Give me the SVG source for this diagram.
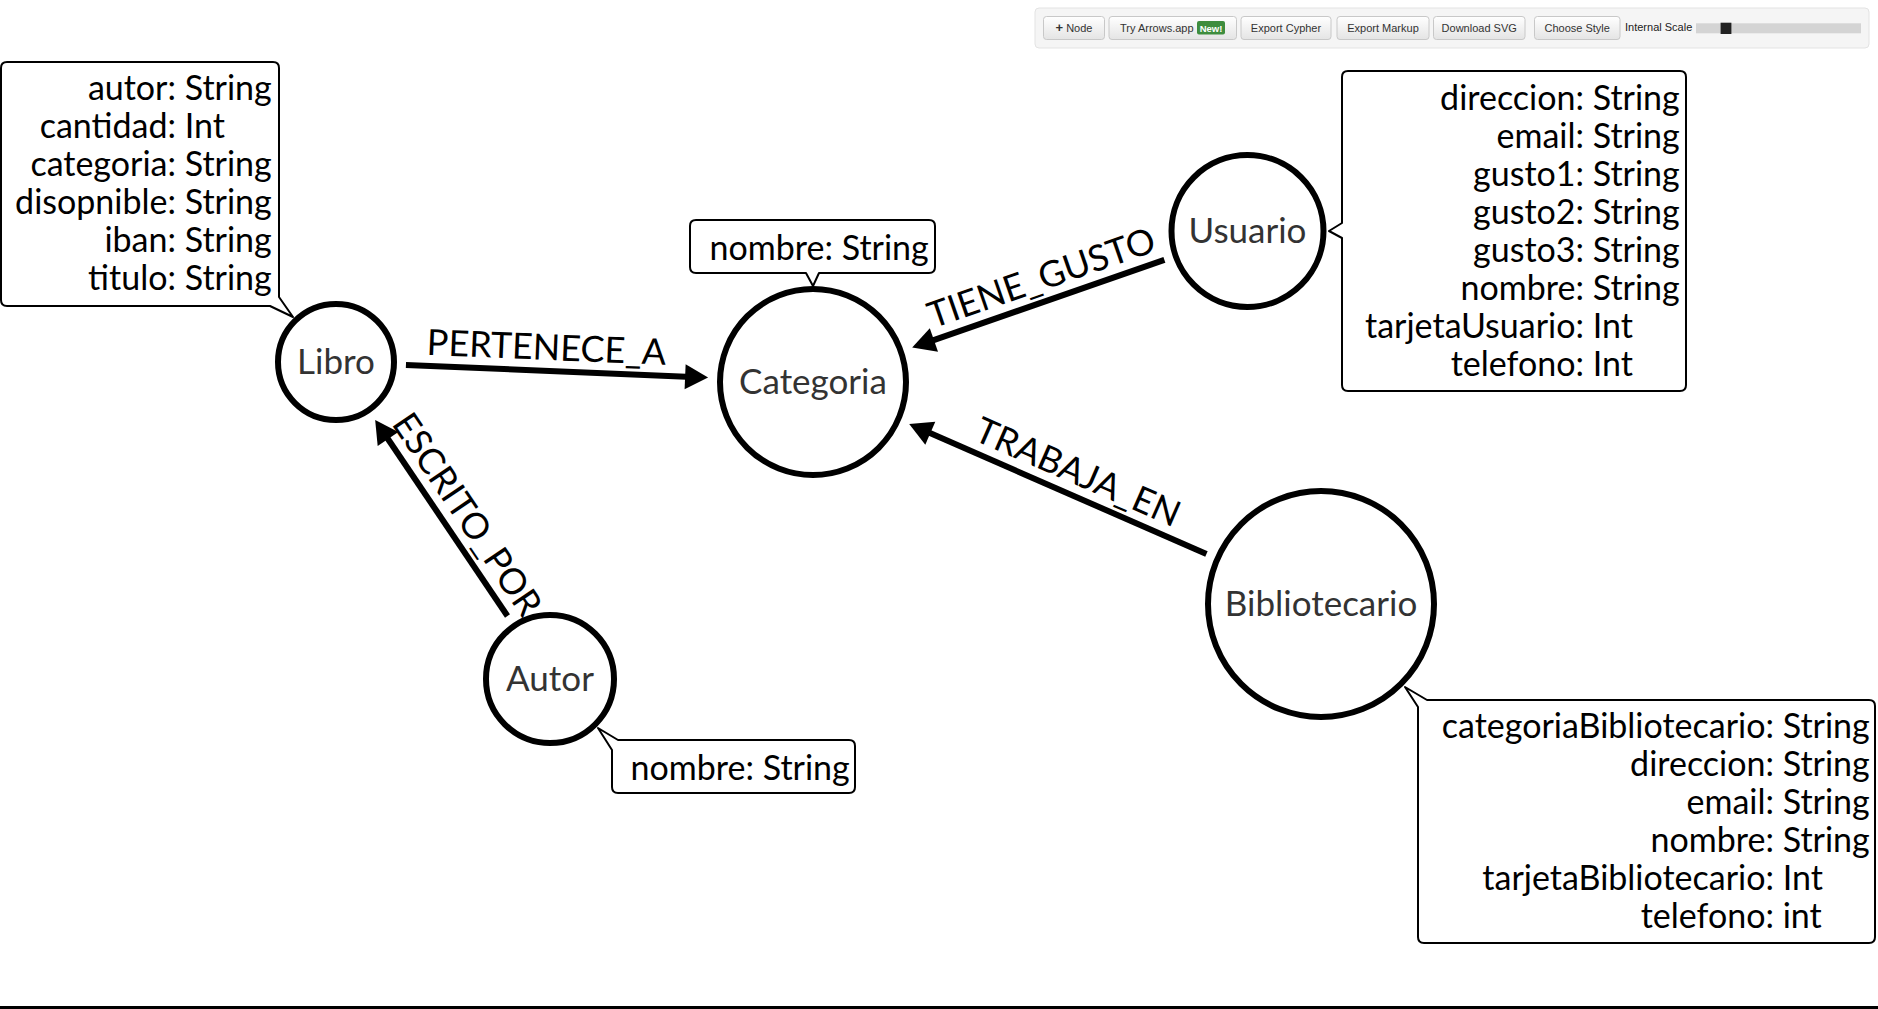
<svg xmlns="http://www.w3.org/2000/svg" width="1878" height="1009" viewBox="0 0 1878 1009">
<style>
.node{fill:#fff;stroke:#000;stroke-width:6}
.cap{font-family:Lato,"Open Sans",sans-serif;font-size:35px;fill:#333;text-anchor:middle}
.box{fill:#fff;stroke:#000;stroke-width:2;stroke-linejoin:round}
.prop{font-family:Lato,"Open Sans",sans-serif;font-size:34px;fill:#000}
.k{text-anchor:end}
.v{text-anchor:start}
.rel{stroke:#000;stroke-width:6;fill:none}
.rl{font-family:Lato,"Open Sans",sans-serif;font-size:36px;fill:#000;text-anchor:middle}
.btn{fill:url(#bg);stroke:#c8c8c8;stroke-width:1}
.bt{font-family:"Liberation Sans",Arial,sans-serif;font-size:11px;fill:#333;text-anchor:middle}
</style>
<defs>
<linearGradient id="bg" x1="0" y1="0" x2="0" y2="1">
<stop offset="0" stop-color="#ffffff"/>
<stop offset="1" stop-color="#e4e4e4"/>
</linearGradient>
<marker id="arrow" markerUnits="userSpaceOnUse" markerWidth="23" markerHeight="25" viewBox="0 0 23 25" refX="1" refY="12.5" orient="auto" overflow="visible">
<path d="M0,0 L23,12.5 L0,25 Z" fill="#000"/>
</marker>
</defs>
<rect width="1878" height="1009" fill="#fff"/>

<g id="toolbar">
<rect x="1035" y="8" width="834" height="40" rx="4" fill="#f5f5f5" stroke="#e3e3e3"/>
<rect class="btn" x="1043.5" y="16.5" width="61" height="23" rx="3"/>
<text class="bt" x="1074" y="32.3"><tspan font-weight="bold" font-size="13px">+</tspan> Node</text>
<rect class="btn" x="1109" y="16.5" width="127.5" height="23" rx="3"/>
<text class="bt" x="1120" y="32.3" style="text-anchor:start">Try Arrows.app</text>
<rect x="1197" y="21" width="28" height="13.5" rx="2" fill="#3e8d3e"/>
<text x="1211" y="31.5" font-family="'Liberation Sans',Arial,sans-serif" font-size="9.5px" font-weight="bold" fill="#fff" text-anchor="middle">New!</text>
<rect class="btn" x="1241" y="16.5" width="90" height="23" rx="3"/>
<text class="bt" x="1286" y="32.3">Export Cypher</text>
<rect class="btn" x="1337" y="16.5" width="92" height="23" rx="3"/>
<text class="bt" x="1383" y="32.3">Export Markup</text>
<rect class="btn" x="1433.5" y="16.5" width="91.5" height="23" rx="3"/>
<text class="bt" x="1479.2" y="32.3">Download SVG</text>
<rect class="btn" x="1534.5" y="16.5" width="85.5" height="23" rx="3"/>
<text class="bt" x="1577.2" y="32.3">Choose Style</text>
<text class="bt" x="1625" y="30.5" style="text-anchor:start;fill:#222">Internal Scale</text>
<rect x="1696" y="23.3" width="165" height="10" fill="#d4d4d4"/>
<rect x="1720.6" y="22.7" width="10.8" height="11.3" fill="#222"/>
</g>

<g id="connectors">
<g id="rel-pertenece">
<line class="rel" x1="405.94" y1="364.93" x2="686.11" y2="376.68" marker-end="url(#arrow)"/>
<text class="rl" transform="translate(546,359.8) rotate(2.4)">PERTENECE_A</text>
</g>
<g id="rel-tiene-gusto">
<line class="rel" x1="1164.38" y1="259.89" x2="932.96" y2="340.31" marker-end="url(#arrow)"/>
<text class="rl" transform="translate(1045.5,289.5) rotate(-19.16)">TIENE_GUSTO</text>
</g>
<g id="rel-trabaja-en">
<line class="rel" x1="1206.46" y1="553.95" x2="929.37" y2="432.86" marker-end="url(#arrow)"/>
<text class="rl" transform="translate(1072.8,483.5) rotate(23.6)">TRABAJA_EN</text>
</g>
<g id="rel-escrito-por">
<line class="rel" x1="507.48" y1="616.01" x2="387.48" y2="438.25" marker-end="url(#arrow)"/>
<text class="rl" transform="translate(456.9,521.4) rotate(55.97)">ESCRITO_POR</text>
</g>
</g>

<g id="node-libro">
<circle class="node" cx="336" cy="362" r="58"/>
<text class="cap" x="336" y="374">Libro</text>
<path class="box" d="M7,62 H273 Q279,62 279,68 V297 L293,317 L270,306 H7 Q1,306 1,300 V68 Q1,62 7,62 Z"/>
<text class="prop" y="100"><tspan class="k" x="176">autor:</tspan><tspan class="v" x="176"> String</tspan></text>
<text class="prop" y="138"><tspan class="k" x="176">cantidad:</tspan><tspan class="v" x="176"> Int</tspan></text>
<text class="prop" y="176"><tspan class="k" x="176">categoria:</tspan><tspan class="v" x="176"> String</tspan></text>
<text class="prop" y="214"><tspan class="k" x="176">disopnible:</tspan><tspan class="v" x="176"> String</tspan></text>
<text class="prop" y="252"><tspan class="k" x="176">iban:</tspan><tspan class="v" x="176"> String</tspan></text>
<text class="prop" y="290"><tspan class="k" x="176">titulo:</tspan><tspan class="v" x="176"> String</tspan></text>
</g>

<g id="node-categoria">
<circle class="node" cx="813" cy="382" r="93"/>
<text class="cap" x="813" y="394">Categoria</text>
<path class="box" d="M696,220 H929 Q935,220 935,226 V267 Q935,273 929,273 H819 L813,286 L806,273 H696 Q690,273 690,267 V226 Q690,220 696,220 Z"/>
<text class="prop" y="260"><tspan class="k" x="833">nombre:</tspan><tspan class="v" x="833"> String</tspan></text>
</g>

<g id="node-usuario">
<circle class="node" cx="1247.5" cy="231" r="76"/>
<text class="cap" x="1247.5" y="243">Usuario</text>
<path class="box" d="M1348,71 H1680 Q1686,71 1686,77 V385 Q1686,391 1680,391 H1348 Q1342,391 1342,385 V238 L1329,231 L1342,223 V77 Q1342,71 1348,71 Z"/>
<text class="prop" y="110"><tspan class="k" x="1584">direccion:</tspan><tspan class="v" x="1584"> String</tspan></text>
<text class="prop" y="148"><tspan class="k" x="1584">email:</tspan><tspan class="v" x="1584"> String</tspan></text>
<text class="prop" y="186"><tspan class="k" x="1584">gusto1:</tspan><tspan class="v" x="1584"> String</tspan></text>
<text class="prop" y="224"><tspan class="k" x="1584">gusto2:</tspan><tspan class="v" x="1584"> String</tspan></text>
<text class="prop" y="262"><tspan class="k" x="1584">gusto3:</tspan><tspan class="v" x="1584"> String</tspan></text>
<text class="prop" y="300"><tspan class="k" x="1584">nombre:</tspan><tspan class="v" x="1584"> String</tspan></text>
<text class="prop" y="338"><tspan class="k" x="1584">tarjetaUsuario:</tspan><tspan class="v" x="1584"> Int</tspan></text>
<text class="prop" y="376"><tspan class="k" x="1584">telefono:</tspan><tspan class="v" x="1584"> Int</tspan></text>
</g>

<g id="node-bibliotecario">
<circle class="node" cx="1321" cy="604" r="113"/>
<text class="cap" x="1321" y="616">Bibliotecario</text>
<path class="box" d="M1427,700 H1869 Q1875,700 1875,706 V937 Q1875,943 1869,943 H1424 Q1418,943 1418,937 V707 L1405,687 Z"/>
<text class="prop" y="738"><tspan class="k" x="1774">categoriaBibliotecario:</tspan><tspan class="v" x="1774"> String</tspan></text>
<text class="prop" y="776"><tspan class="k" x="1774">direccion:</tspan><tspan class="v" x="1774"> String</tspan></text>
<text class="prop" y="814"><tspan class="k" x="1774">email:</tspan><tspan class="v" x="1774"> String</tspan></text>
<text class="prop" y="852"><tspan class="k" x="1774">nombre:</tspan><tspan class="v" x="1774"> String</tspan></text>
<text class="prop" y="890"><tspan class="k" x="1774">tarjetaBibliotecario:</tspan><tspan class="v" x="1774"> Int</tspan></text>
<text class="prop" y="928"><tspan class="k" x="1774">telefono:</tspan><tspan class="v" x="1774"> int</tspan></text>
</g>

<g id="node-autor">
<circle class="node" cx="550" cy="679" r="64"/>
<text class="cap" x="550" y="691">Autor</text>
<path class="box" d="M618,740 H849 Q855,740 855,746 V787 Q855,793 849,793 H618 Q612,793 612,787 V750 L598,728 Z"/>
<text class="prop" y="780"><tspan class="k" x="754">nombre:</tspan><tspan class="v" x="754"> String</tspan></text>
</g>

<rect id="bottom-rule" x="0" y="1006" width="1878" height="3" fill="#000"/>
</svg>
